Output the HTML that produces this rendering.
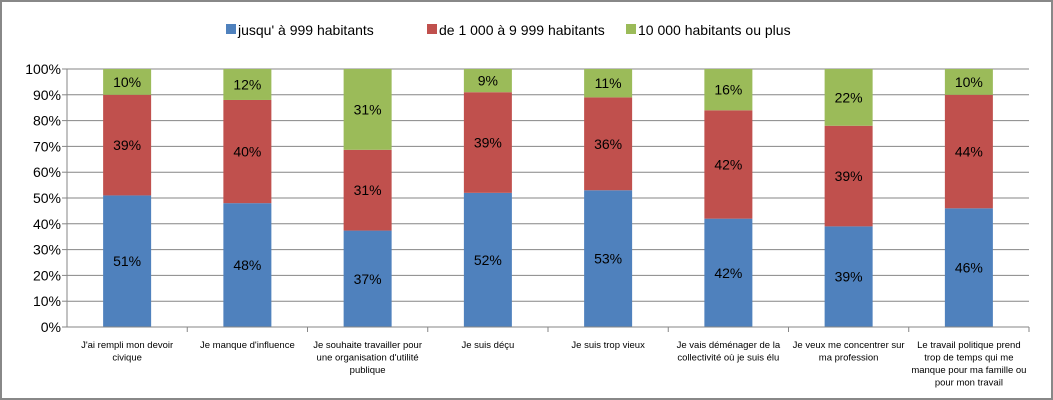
<!DOCTYPE html>
<html><head><meta charset="utf-8"><style>
html,body{margin:0;padding:0;background:#fff}
#wrap{position:relative;width:1053px;height:400px;box-sizing:border-box;border:2px solid #888;overflow:hidden;font-family:"Liberation Sans",sans-serif}
svg text{font-family:"Liberation Sans",sans-serif}
</style></head><body>
<div id="wrap">
<svg id="chart" width="1049" height="396" style="position:absolute;left:0;top:0"></svg>
</div>
<script>
const categories=[["J'ai rempli mon devoir","civique"],["Je manque d'influence"],["Je souhaite travailler pour","une organisation d'utilité","publique"],["Je suis déçu"],["Je suis trop vieux"],["Je vais déménager de la","collectivité où je suis élu"],["Je veux me concentrer sur","ma profession"],["Le travail politique prend","trop de temps qui me","manque pour ma famille ou","pour mon travail"]];
const seriesNames=["jusqu' à 999 habitants","de 1 000 à 9 999 habitants","10 000 habitants ou plus"];
const small=[51,48,37,52,53,42,39,46];
const medium=[39,40,31,39,36,42,39,44];
const large=[10,12,31,9,11,16,22,10];
const yTicks=["0%","10%","20%","30%","40%","50%","60%","70%","80%","90%","100%"];
const colors=["#4f81bd","#c0504d","#9bbb59"];
const svg=document.getElementById('chart');
const NS='http://www.w3.org/2000/svg';
const L=65,R=1027,T=67,B=325,bw=48;
const cw=(R-L)/categories.length;
const y=v=>B-(B-T)*v/100;
const xc=i=>L+cw*(i+0.5);
function mk(t,a,p){const e=document.createElementNS(NS,t);for(const k in a)e.setAttribute(k,a[k]);(p||svg).appendChild(e);return e;}
yTicks.forEach((t,i)=>{
 const v=i*10;
 const g=mk('line',{x1:L,x2:R,y1:y(v),y2:y(v),stroke:'#868686','stroke-width':1});
 
 
 const tx=mk('text',{x:L-6,y:y(v)+5,'text-anchor':'end','font-size':14,fill:'#000'});
 tx.textContent=t;
 
 
 mk('line',{x1:L-5,x2:L,y1:y(v),y2:y(v),stroke:'#868686'});
});
mk('line',{x1:L,x2:L,y1:T,y2:B,stroke:'#868686'});
const series=[small,medium,large];
categories.forEach((c,i)=>{
 const tot=small[i]+medium[i]+large[i];
 let acc=0;
 series.forEach((s,k)=>{
  const v=s[i]/tot*100;
  const r=mk('rect',{x:xc(i)-bw/2,y:y(acc+v),width:bw,height:y(acc)-y(acc+v),fill:colors[k]});
  
  
  const t=mk('text',{x:xc(i),y:(y(acc)+y(acc+v))/2+5,'text-anchor':'middle','font-size':14,fill:'#000'});
  t.textContent=s[i]+'%';
  
  
  acc+=v;
 });
 const tk=mk('line',{x1:L+cw*(i+1),x2:L+cw*(i+1),y1:B,y2:B+5,stroke:'#868686'});
 c.forEach((ln,j)=>{
  const t=mk('text',{x:xc(i),y:B+21+j*12.5,'text-anchor':'middle','font-size':9.5,fill:'#000'});
  t.textContent=ln;
  
  
 });
});
mk('line',{x1:L,x2:R,y1:B,y2:B,stroke:'#868686'});
const lx=[224,425,624];
seriesNames.forEach((n,k)=>{
 const r=mk('rect',{x:lx[k],y:22,width:10,height:10,fill:colors[k]});
 
 
 const t=mk('text',{x:lx[k]+12,y:33,'font-size':14,fill:'#000'});
 t.textContent=n;
 
 
});
</script>
</body></html>
